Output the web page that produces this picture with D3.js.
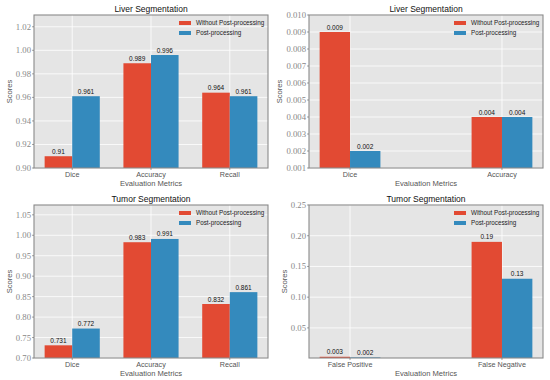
<!DOCTYPE html>
<html>
<head>
<meta charset="utf-8">
<script src="https://cdn.jsdelivr.net/npm/d3@7"></script>
<style>
  body { margin: 0; background: #fff; }
  svg { display: block; }
  .tick-label { font-family: "Liberation Serif", serif; fill: #888; font-size: 8.7px; }
  .cat-label { font-family: "Liberation Sans", Arial, sans-serif; fill: #555; font-size: 7.2px; }
  .axis-title { font-family: "Liberation Sans", Arial, sans-serif; fill: #555; font-size: 7.6px; }
  .title { font-family: "Liberation Sans", Arial, sans-serif; fill: #111; font-size: 8.5px; }
  .bar-label { font-family: "Liberation Sans", Arial, sans-serif; fill: #111; font-size: 6.5px; }
  .legend-label { font-family: "Liberation Sans", Arial, sans-serif; fill: #222; font-size: 6.3px; }
</style>
</head>
<body>
<svg width="550" height="380"></svg>
<script>
// data
const seriesNames = ['Without Post-processing', 'Post-processing'];
const seriesColors = ['#E24A33', '#348ABD'];

const liverMetrics = ['Dice', 'Accuracy', 'Recall'];
const liverWithout = [0.91, 0.989, 0.964];
const liverWith = [0.961, 0.996, 0.961];
const liverTicks = [0.90, 0.92, 0.94, 0.96, 0.98, 1.00, 1.02];

const liverErrMetrics = ['Dice', 'Accuracy'];
const liverErrWithout = [0.009, 0.004];
const liverErrWith = [0.002, 0.004];
const liverErrTicks = [0.001, 0.002, 0.003, 0.004, 0.005, 0.006, 0.007, 0.008, 0.009, 0.010];

const tumorMetrics = ['Dice', 'Accuracy', 'Recall'];
const tumorWithout = [0.731, 0.983, 0.832];
const tumorWith = [0.772, 0.991, 0.861];
const tumorTicks = [0.70, 0.75, 0.80, 0.85, 0.90, 0.95, 1.00, 1.05];

const tumorErrMetrics = ['False Positive', 'False Negative'];
const tumorErrWithout = [0.003, 0.19];
const tumorErrWith = [0.002, 0.13];
const tumorErrTicks = [0.05, 0.10, 0.15, 0.20, 0.25];

const svg = d3.select('svg');

function drawPanel(p) {
    const g = svg.append('g');
    const x = d3.scaleLinear()
        .domain([-p.barWidth - p.pad, p.cats.length - 1 + p.barWidth + p.pad])
        .range([p.left, p.right]);
    const y = d3.scaleLinear().domain(p.yDomain).range([p.bottom, p.top]);

    // background
    g.append('rect')
        .attr('x', p.left).attr('y', p.top)
        .attr('width', p.right - p.left).attr('height', p.bottom - p.top)
        .attr('fill', '#E5E5E5');

    // grid
    g.selectAll('.hgrid')
        .data(p.ticks)
        .enter()
        .append('line')
        .attr('x1', p.left).attr('x2', p.right)
        .attr('y1', d => y(d)).attr('y2', d => y(d))
        .attr('stroke', '#fff').attr('stroke-width', 0.8);
    g.selectAll('.vgrid')
        .data(p.cats)
        .enter()
        .append('line')
        .attr('x1', (d, i) => x(i)).attr('x2', (d, i) => x(i))
        .attr('y1', p.top).attr('y2', p.bottom)
        .attr('stroke', '#fff').attr('stroke-width', 0.8);

    // bars
    const series = [p.without, p.with];
    series.forEach((vals, s) => {
        const offset = s === 0 ? -p.barWidth : 0;
        g.selectAll('.bar' + s)
            .data(vals)
            .enter()
            .append('rect')
            .attr('x', (d, i) => x(i + offset))
            .attr('y', d => y(d))
            .attr('width', x(p.barWidth) - x(0))
            .attr('height', d => Math.max(0, y(p.yDomain[0]) - y(d)))
            .attr('fill', seriesColors[s]);
        g.selectAll('.barlabel' + s)
            .data(vals)
            .enter()
            .append('text')
            .attr('class', 'bar-label')
            .attr('x', (d, i) => x(i + offset + p.barWidth / 2))
            .attr('y', d => y(d) - 2.5)
            .attr('text-anchor', 'middle')
            .text(d => String(d));
    });

    // frame
    g.append('rect')
        .attr('x', p.left).attr('y', p.top)
        .attr('width', p.right - p.left).attr('height', p.bottom - p.top)
        .attr('fill', 'none').attr('stroke', '#8a8a8a').attr('stroke-width', 1.1);

    // y ticks
    g.selectAll('.ytick')
        .data(p.ticks)
        .enter()
        .append('line')
        .attr('x1', p.left - 2).attr('x2', p.left)
        .attr('y1', d => y(d)).attr('y2', d => y(d))
        .attr('stroke', '#666').attr('stroke-width', 0.6);
    g.selectAll('.ylabel')
        .data(p.ticks)
        .enter()
        .append('text')
        .attr('class', 'tick-label')
        .attr('x', p.left - 3)
        .attr('y', d => y(d) + 3)
        .attr('text-anchor', 'end')
        .text(d => d3.format(p.tickFormat)(d));

    // x ticks + category labels
    g.selectAll('.xtick')
        .data(p.cats)
        .enter()
        .append('line')
        .attr('x1', (d, i) => x(i)).attr('x2', (d, i) => x(i))
        .attr('y1', p.bottom).attr('y2', p.bottom + 2)
        .attr('stroke', '#666').attr('stroke-width', 0.6);
    g.selectAll('.xlabel')
        .data(p.cats)
        .enter()
        .append('text')
        .attr('class', 'cat-label')
        .attr('x', (d, i) => x(i))
        .attr('y', p.bottom + 9)
        .attr('text-anchor', 'middle')
        .text(d => d);

    // titles
    g.append('text').attr('class', 'axis-title')
        .attr('x', (p.left + p.right) / 2).attr('y', p.bottom + 17.5)
        .attr('text-anchor', 'middle').text('Evaluation Metrics');
    g.append('text').attr('class', 'axis-title')
        .attr('transform', `translate(${p.yLabelX},${(p.top + p.bottom) / 2}) rotate(-90)`)
        .attr('text-anchor', 'middle').text('Scores');
    g.append('text').attr('class', 'title')
        .attr('x', (p.left + p.right) / 2).attr('y', p.top - 3)
        .attr('text-anchor', 'middle').text(p.title);

    // legend
    seriesNames.forEach((name, s) => {
        g.append('rect')
            .attr('x', p.right - 89).attr('y', p.top + 6 + s * 10)
            .attr('width', 12).attr('height', 4)
            .attr('fill', seriesColors[s]);
        g.append('text').attr('class', 'legend-label')
            .attr('x', p.right - 72).attr('y', p.top + 10.3 + s * 10)
            .text(name);
    });
}

drawPanel({
    title: 'Liver Segmentation', cats: liverMetrics, without: liverWithout, with: liverWith,
    ticks: liverTicks, yDomain: [0.9, 1.03], tickFormat: '.2f',
    barWidth: 0.35, pad: 0.135,
    left: 34, right: 268, top: 15, bottom: 168, yLabelX: 12
});
drawPanel({
    title: 'Liver Segmentation', cats: liverErrMetrics, without: liverErrWithout, with: liverErrWith,
    ticks: liverErrTicks, yDomain: [0.001, 0.010], tickFormat: '.3f',
    barWidth: 0.2, pad: 0.07,
    left: 309, right: 543, top: 15, bottom: 168, yLabelX: 282
});
drawPanel({
    title: 'Tumor Segmentation', cats: tumorMetrics, without: tumorWithout, with: tumorWith,
    ticks: tumorTicks, yDomain: [0.7, 1.074], tickFormat: '.2f',
    barWidth: 0.35, pad: 0.135,
    left: 34, right: 268, top: 205, bottom: 358, yLabelX: 12
});
drawPanel({
    title: 'Tumor Segmentation', cats: tumorErrMetrics, without: tumorErrWithout, with: tumorErrWith,
    ticks: tumorErrTicks, yDomain: [0.001, 0.25], tickFormat: '.2f',
    barWidth: 0.2, pad: 0.07,
    left: 309, right: 543, top: 205, bottom: 358, yLabelX: 287
});
</script>
</body>
</html>
